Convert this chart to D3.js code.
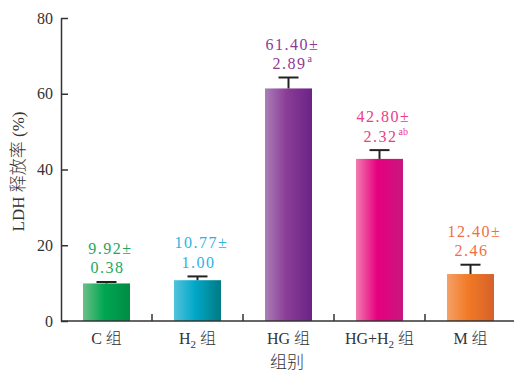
<!DOCTYPE html>
<html>
<head>
<meta charset="utf-8">
<script src="https://cdn.jsdelivr.net/npm/d3@7"></script>
<style>
  body { margin: 0; background: #fff; }
  text { font-family: "Liberation Serif", "Noto Sans CJK SC", serif; }
</style>
</head>
<body>
<div id="chart"></div>
<script>
var w = 514, h = 374;

// data
var groups = ["C", "H2", "HG", "HG+H2", "M"];
var means = [9.92, 10.77, 61.40, 42.80, 12.40];
var errs = [0.38, 1.00, 2.89, 2.32, 2.46];
var sigs = ["", "", "a", "ab", ""];
var meanLabels = ["9.92", "10.77", "61.40", "42.80", "12.40"];
var errLabels = ["0.38", "1.00", "2.89", "2.32", "2.46"];
var yTicks = [0, 20, 40, 60, 80];

// gradient colors (left, mid, right) and label colors
var gradColors = [
  ["#6cbf88", "#00a651", "#008c45"],
  ["#52c2dc", "#00a8c8", "#007a84"],
  ["#aa7fb6", "#8b3d97", "#6a2386"],
  ["#f27bb0", "#e6007e", "#c8167f"],
  ["#f5a066", "#f17a25", "#d6612a"]
];
var labelColors = ["#1fa65a", "#2db3e2", "#8e3a92", "#ea3d8b", "#f26e3f"];

var padL = 61, padT = 18, axisY = 321, band = 91;
var serif = "Liberation Serif";

var svg = d3.select("#chart").append("svg")
  .attr("width", w)
  .attr("height", h);

var x = d3.scaleBand().domain(groups).range([padL, padL + band * groups.length]);
var y = d3.scaleLinear().domain([0, 80]).range([axisY, padT]);
var barW = 47;

var defs = svg.append("defs");
groups.forEach(function(g, i) {
  var lg = defs.append("linearGradient")
    .attr("id", "grad" + i)
    .attr("x1", "0%").attr("x2", "100%").attr("y1", "0%").attr("y2", "0%");
  lg.append("stop").attr("offset", "0%").attr("stop-color", gradColors[i][0]);
  lg.append("stop").attr("offset", "45%").attr("stop-color", gradColors[i][1]);
  lg.append("stop").attr("offset", "100%").attr("stop-color", gradColors[i][2]);
});

// bars
svg.selectAll("rect.bar")
  .data(groups)
  .enter().append("rect")
  .attr("class", "bar")
  .attr("x", function(d) { return x(d) + x.bandwidth() / 2 - barW / 2; })
  .attr("width", barW)
  .attr("y", function(d, i) { return y(means[i]); })
  .attr("height", function(d, i) { return axisY - y(means[i]); })
  .attr("fill", function(d, i) { return "url(#grad" + i + ")"; });

// error bars (upper only)
var eb = svg.selectAll("g.err")
  .data(groups)
  .enter().append("g")
  .attr("class", "err")
  .attr("stroke", "#222")
  .attr("stroke-width", 2);
eb.append("line")
  .attr("x1", function(d) { return x(d) + x.bandwidth() / 2; })
  .attr("x2", function(d) { return x(d) + x.bandwidth() / 2; })
  .attr("y1", function(d, i) { return y(means[i]); })
  .attr("y2", function(d, i) { return y(means[i] + errs[i]); });
eb.append("line")
  .attr("x1", function(d) { return x(d) + x.bandwidth() / 2 - 10; })
  .attr("x2", function(d) { return x(d) + x.bandwidth() / 2 + 10; })
  .attr("y1", function(d, i) { return y(means[i] + errs[i]); })
  .attr("y2", function(d, i) { return y(means[i] + errs[i]); });

// value labels
groups.forEach(function(g, i) {
  var cx = x(g) + x.bandwidth() / 2;
  var capY = y(means[i] + errs[i]);
  var b2 = capY - 8.5, b1 = b2 - 19.5;
  svg.append("text")
    .attr("x", cx + 4).attr("y", b1)
    .attr("text-anchor", "middle")
    .style("font-family", serif)
    .attr("font-size", 16)
    .attr("letter-spacing", 1.5)
    .attr("fill", labelColors[i])
    .text(meanLabels[i] + "±");
  var t2 = svg.append("text")
    .attr("x", cx + 1).attr("y", b2)
    .attr("text-anchor", "middle")
    .style("font-family", serif)
    .attr("font-size", 16)
    .attr("letter-spacing", 1.5)
    .attr("fill", labelColors[i])
    .text(errLabels[i]);
  if (sigs[i]) {
    var tw = t2.node().getComputedTextLength();
    svg.append("text")
      .attr("x", cx + 1 + tw / 2 + 1).attr("y", b2 - 7)
      .style("font-family", serif)
      .attr("font-size", 10)
      .attr("fill", labelColors[i])
      .text(sigs[i]);
  }
});

// y axis
var yAxis = d3.axisLeft(y)
  .tickValues(yTicks)
  .tickSize(-7)
  .tickSizeOuter(0)
  .tickPadding(8);
var gy = svg.append("g")
  .attr("transform", "translate(" + padL + ",0)")
  .call(yAxis);
gy.select(".domain").attr("stroke", "#333").attr("stroke-width", 1.5);
gy.selectAll(".tick line").attr("stroke", "#333").attr("stroke-width", 1.5);
gy.selectAll(".tick text")
  .style("font-family", serif)
  .attr("font-size", 16)
  .attr("fill", "#333");

// x axis
svg.append("line")
  .attr("x1", padL).attr("x2", w)
  .attr("y1", axisY).attr("y2", axisY)
  .attr("stroke", "#333").attr("stroke-width", 1.5);
svg.selectAll("line.xtick")
  .data(groups.slice(1))
  .enter().append("line")
  .attr("class", "xtick")
  .attr("x1", function(d) { return x(d); })
  .attr("x2", function(d) { return x(d); })
  .attr("y1", axisY).attr("y2", axisY - 7)
  .attr("stroke", "#333").attr("stroke-width", 1.5);

var xl = svg.selectAll("text.xlab")
  .data(groups)
  .enter().append("text")
  .attr("class", "xlab")
  .attr("x", function(d) { return x(d) + x.bandwidth() / 2; })
  .attr("y", 344)
  .attr("text-anchor", "middle")
  .attr("font-size", 16)
  .attr("fill", "#333");
xl.each(function(d) {
  var t = d3.select(this);
  var parts = d.split("H2");
  if (parts.length === 1) {
    t.append("tspan").text(d + " ");
  } else {
    t.append("tspan").text(parts[0] + "H");
    t.append("tspan").attr("font-size", 11).attr("dy", 4).text("2");
    t.append("tspan").attr("dy", -4).text(" ");
  }
  t.append("tspan").style("font-family", "Noto Sans CJK SC").attr("font-weight", 300).text("组");
});

// axis titles
svg.append("text")
  .attr("x", 287).attr("y", 368)
  .attr("text-anchor", "middle")
  .style("font-family", "Noto Sans CJK SC")
  .attr("font-weight", 300)
  .attr("font-size", 17)
  .attr("fill", "#333")
  .text("组别");

var yt = svg.append("text")
  .attr("transform", "translate(24," + ((padT + axisY) / 2 + 2) + ") rotate(-90)")
  .attr("text-anchor", "middle")
  .attr("font-size", 17)
  .attr("fill", "#333");
yt.append("tspan").text("LDH ");
yt.append("tspan").style("font-family", "Noto Sans CJK SC").attr("font-weight", 300).text("释放率");
yt.append("tspan").text(" (%)");
</script>
</body>
</html>
